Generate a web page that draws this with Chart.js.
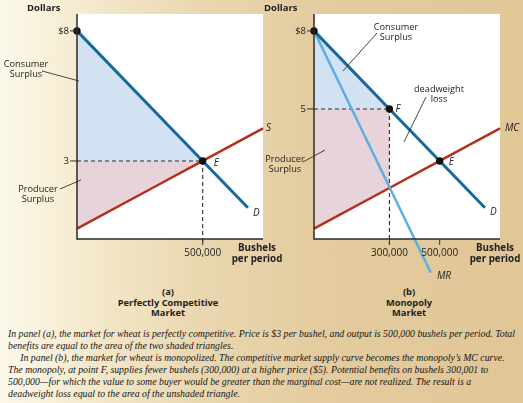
<!DOCTYPE html>
<html><head><meta charset="utf-8">
<script src="https://cdn.jsdelivr.net/npm/chart.js@4.4.0/dist/chart.umd.min.js"></script>
<style>
html,body{margin:0;padding:0;}
body{width:523px;height:403px;overflow:hidden;position:relative;
 background:linear-gradient(to right,#fcf8ea 0%,#f5ebcf 15%,#ead7b0 38%,#e4cca0 60%,#e1c696 100%);
 font-family:"Open Sans",sans-serif;}
canvas{position:absolute;left:0;top:0;}
.cap{position:absolute;width:160px;text-align:center;font-weight:bold;font-size:9.3px;line-height:10.6px;color:#1e1e1e;}
.para{position:absolute;left:8px;top:327px;font-family:"Liberation Serif",serif;font-style:italic;font-size:11.2px;color:#161616;}
.para div{white-space:nowrap;height:12px;line-height:12px;transform-origin:left center;}
</style></head>
<body>
<canvas id="ca" width="523" height="280"></canvas>
<canvas id="cb" width="523" height="280"></canvas>
<div class="cap" style="left:88px;top:287px">(a)<br>Perfectly Competitive<br>Market</div>
<div class="cap" style="left:329px;top:287px">(b)<br>Monopoly<br>Market</div>
<div class="para" id="para"></div>
<script>
// ---------- data ----------
const demandPts = [[0, 8], [300000, 5], [500000, 3], [680000, 1.2]];
const supplyPts = [[0, 0.4], [300000, 1.96], [500000, 3], [740000, 4.25]];
const mrPts = [[0, 8], [300000, 2], [465000, -1.3]];
const compQ = 500000, compP = 3;
const monoQ = 300000, monoP = 5;
const yTicksA = [8, 3];
const yLabelsA = ['$8', '3'];
const xTicksA = [500000];
const xLabelsA = ['500,000'];
const yTicksB = [8, 5];
const yLabelsB = ['$8', '5'];
const xTicksB = [300000, 500000];
const xLabelsB = ['300,000', '500,000'];
const captionLines = [
 'In panel (a), the market for wheat is perfectly competitive. Price is $3 per bushel, and output is 500,000 bushels per period. Total',
 'benefits are equal to the area of the two shaded triangles.',
 'In panel (b), the market for wheat is monopolized. The competitive market supply curve becomes the monopoly\u2019s MC curve.',
 'The monopoly, at point F, supplies fewer bushels (300,000) at a higher price ($5). Potential benefits on bushels 300,001 to',
 '500,000\u2014for which the value to some buyer would be greater than the marginal cost\u2014are not realized. The result is a',
 'deadweight loss equal to the area of the unshaded triangle.'
];

// ---------- styles ----------
const W = 523, H = 280;
const BLUE = '#17699c', RED = '#b3301a', LBLUE = '#5cafe0', DASH = '#2a2a2a';
const CSFILL = '#d3e2f3', PSFILL = '#e8d3da';
const SANS = '"Open Sans", sans-serif';
const pts = a => a.map(p => ({x: p[0], y: p[1]}));
const upTo = (a, q) => a.filter(p => p[0] <= q);
const TICKEXT = -0.2;

function txt(ctx, s, x, y, font, align) {
  ctx.font = font; ctx.textAlign = align || 'left'; ctx.textBaseline = 'middle';
  ctx.fillStyle = '#222'; ctx.fillText(s, x, y);
}
function seg(ctx, x1, y1, x2, y2, w, c) {
  ctx.save(); ctx.beginPath(); ctx.moveTo(x1, y1); ctx.lineTo(x2, y2);
  ctx.lineWidth = w; ctx.strokeStyle = c || '#333'; ctx.setLineDash([]); ctx.stroke(); ctx.restore();
}

function deco(panel) {
  return {
    id: 'deco' + panel.name,
    beforeDatasetsDraw(chart) {
      const a = chart.chartArea, ctx = chart.ctx;
      ctx.save(); ctx.fillStyle = '#fff';
      ctx.fillRect(a.left, a.top, a.right - a.left, a.bottom - a.top); ctx.restore();
    },
    afterDatasetsDraw(chart) {
      const a = chart.chartArea, ctx = chart.ctx, xs = chart.scales.x, ys = chart.scales.y;
      ctx.save();
      // axes
      seg(ctx, a.left, a.top, a.left, ys.getPixelForValue(0) + 0.7, 1.5, '#2a2a2a');
      seg(ctx, a.left, ys.getPixelForValue(0), a.right, ys.getPixelForValue(0), 1.5, '#2a2a2a');
      // y ticks
      panel.yTicks.forEach((v, i) => {
        const y = ys.getPixelForValue(v);
        seg(ctx, a.left - 7, y, a.left, y, 1, '#333');
        txt(ctx, panel.yLabels[i], a.left - 8, y, '9.5px ' + SANS, 'right');
      });
      // x ticks
      panel.xTicks.forEach((v, i) => {
        const x = xs.getPixelForValue(v), y0 = ys.getPixelForValue(0);
        seg(ctx, x, y0, x, y0 + 6, 1, '#333');
        txt(ctx, panel.xLabels[i], x, y0 + 14, '10px ' + SANS, 'center');
      });
      // axis titles
      txt(ctx, 'Dollars', panel.dollarsX, 8, 'bold 9.5px ' + SANS, 'left');
      txt(ctx, 'Bushels', panel.bushX, 248, 'bold 9.8px ' + SANS, 'center');
      txt(ctx, 'per period', panel.bushX, 259, 'bold 9.8px ' + SANS, 'center');
      // curve labels
      const P = (q, p) => [xs.getPixelForValue(q), ys.getPixelForValue(p)];
      panel.curveLabels.forEach(l => {
        const [x, y] = P(l.q, l.p);
        txt(ctx, l.t, x + l.dx, y + l.dy, 'italic 10px ' + SANS, 'left');
      });
      // annotations with leader lines
      panel.notes.forEach(n => {
        n.lines.forEach((s, i) => txt(ctx, s, n.x, n.y + i * 10, '9.2px ' + SANS, 'center'));
        seg(ctx, n.l[0], n.l[1], n.l[2], n.l[3], 0.9, '#333');
      });
      ctx.restore();
    }
  };
}

function build(id, panel, datasets) {
  return new Chart(document.getElementById(id), {
    type: 'line',
    data: {datasets},
    options: {
      responsive: false, animation: false, events: [],
      layout: {padding: {left: panel.left, right: W - panel.right, top: 14, bottom: H - 239}},
      plugins: {legend: {display: false}, tooltip: {enabled: false}},
      scales: {
        x: {type: 'linear', min: 0, max: 740000, display: false},
        y: {type: 'linear', min: 0, max: 8.65, display: false}
      },
      elements: {line: {tension: 0}, point: {radius: 0}}
    },
    plugins: [deco(panel)]
  });
}
function lineDs(data, color, width, order, extra) {
  return Object.assign({data, borderColor: color, borderWidth: width, pointRadius: 0,
    fill: false, clip: false, order, borderCapStyle: 'butt'}, extra || {});
}
function fillDs(data, level, color) {
  return {data, borderWidth: 0, borderColor: 'rgba(0,0,0,0)', pointRadius: 0,
    fill: {value: level}, backgroundColor: color, clip: false, order: 10};
}
function dotDs(data) {
  return {data, showLine: false, pointRadius: 3.7, pointBackgroundColor: '#111',
    pointBorderColor: '#111', borderWidth: 0, clip: false, order: 0};
}

// ---------- panel (a) ----------
const panelA = {
  name: 'A', left: 77, right: 263, yTicks: yTicksA, yLabels: yLabelsA,
  xTicks: xTicksA, xLabels: xLabelsA, dollarsX: 27, bushX: 257,
  curveLabels: [
    {t: 'S', q: supplyPts[3][0], p: supplyPts[3][1], dx: 3, dy: 0},
    {t: 'D', q: demandPts[3][0], p: demandPts[3][1], dx: 5, dy: 5},
    {t: 'E', q: compQ, p: compP, dx: 11, dy: 2}
  ],
  notes: [
    {lines: ['Consumer', 'Surplus'], x: 26, y: 64, l: [42, 71, 79, 81]},
    {lines: ['Producer', 'Surplus'], x: 38, y: 189, l: [60, 189, 81, 180]}
  ]
};
build('ca', panelA, [
  dotDs([{x: demandPts[0][0], y: demandPts[0][1]}, {x: compQ, y: compP}]),
  lineDs(pts(demandPts), BLUE, 3, 1),
  lineDs(pts(supplyPts), RED, 2.5, 2),
  lineDs([{x: 0, y: compP}, {x: compQ, y: compP}], DASH, 1.1, 5, {borderDash: [4, 3]}),
  lineDs([{x: compQ, y: compP}, {x: compQ, y: TICKEXT}], DASH, 1.1, 5, {borderDash: [4, 3]}),
  fillDs(pts(upTo(demandPts, compQ)), compP, CSFILL),
  fillDs(pts(upTo(supplyPts, compQ)), compP, PSFILL)
]);

// ---------- panel (b) ----------
const panelB = {
  name: 'B', left: 314, right: 500, yTicks: yTicksB, yLabels: yLabelsB,
  xTicks: xTicksB, xLabels: xLabelsB, dollarsX: 264, bushX: 495,
  curveLabels: [
    {t: 'MC', q: supplyPts[3][0], p: supplyPts[3][1], dx: 5, dy: 0},
    {t: 'D', q: demandPts[3][0], p: demandPts[3][1], dx: 5, dy: 4},
    {t: 'E', q: compQ, p: compP, dx: 9, dy: 1},
    {t: 'F', q: monoQ, p: monoP, dx: 6, dy: 0},
    {t: 'MR', q: mrPts[2][0], p: mrPts[2][1], dx: 6, dy: 3}
  ],
  notes: [
    {lines: ['Consumer', 'Surplus'], x: 396, y: 27, l: [377, 33, 343, 71]},
    {lines: ['deadweight', 'loss'], x: 439, y: 89, l: [426, 97, 404, 142]},
    {lines: ['Producer', 'Surplus'], x: 285, y: 159, l: [303, 162, 325, 150]}
  ]
};
build('cb', panelB, [
  dotDs([{x: demandPts[0][0], y: demandPts[0][1]}, {x: monoQ, y: monoP}, {x: compQ, y: compP}]),
  lineDs(pts(demandPts), BLUE, 3, 1),
  lineDs(pts(mrPts), LBLUE, 2.5, 2),
  lineDs(pts(supplyPts), RED, 2.5, 3),
  lineDs([{x: 0, y: monoP}, {x: monoQ, y: monoP}], DASH, 1.1, 5, {borderDash: [4, 3]}),
  lineDs([{x: monoQ, y: monoP}, {x: monoQ, y: TICKEXT}], DASH, 1.1, 5, {borderDash: [4, 3]}),
  fillDs(pts(upTo(demandPts, monoQ)), monoP, CSFILL),
  fillDs(pts(upTo(supplyPts, monoQ)), monoP, PSFILL)
]);

// ---------- caption text ----------
const para = document.getElementById('para');
captionLines.forEach((s, i) => {
  const d = document.createElement('div');
  d.textContent = s;
  if (i === 2) d.style.paddingLeft = '14px';
  para.appendChild(d);
});
const first = para.firstChild;
const span = document.createElement('span'); span.textContent = captionLines[0];
first.textContent = ''; first.appendChild(span);
const k = 507 / span.getBoundingClientRect().width;
Array.from(para.children).forEach(d => d.style.transform = 'scaleX(' + k + ')');
</script>
</body></html>
